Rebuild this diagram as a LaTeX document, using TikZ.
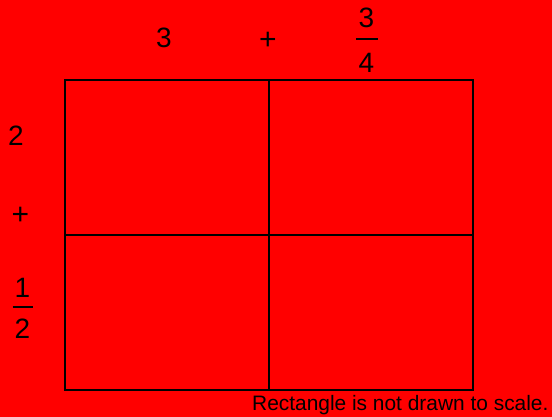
\documentclass[tikz,border=0pt]{standalone}
\usepackage{fontspec}
\setmainfont{Liberation Sans}
\definecolor{bgred}{RGB}{255,0,0}
\usetikzlibrary{positioning}

\begin{document}
\begin{tikzpicture}[x=1pt,y=-1pt,
  num/.style={inner sep=0pt,font=\fontsize{28}{28}\selectfont},
  plus/.style={inner sep=0pt,font=\fontsize{30}{30}\selectfont},
  bar/.style={line width=1.3pt},
  edge/.style={line width=1.5pt}]

  % background
  \fill[bgred] (0,0) rectangle (552,417);
  \useasboundingbox (0,0) rectangle (552,417);

  % rectangle split in four
  \draw[edge] (65,80) rectangle (473,390);
  \draw[edge] (269,80) -- (269,390);
  \draw[edge] (65,235) -- (473,235);

  % top side: 3 + 3/4
  \node[num] (topwhole) at (164,37.5) {3};
  \node[plus] (topplus) at (268,41) {+};
  \node[num] (topnum) at (366.5,17.5) {3};
  \node[num] (topden) at (366.5,62.5) {4};
  \draw[bar] (356,39) -- (378,39);

  % left side: 2 + 1/2
  \node[num] (leftwhole) at (16,136) {2};
  \node[plus] (leftplus) at (20.5,215.5) {+};
  \node[num] (leftnum) at (22.5,287.5) {1};
  \node[num] (leftden) at (22.5,328.5) {2};
  \draw[bar] (12.5,307) -- (33,307);

  % note
  \node[inner sep=0pt,anchor=base west,font=\fontsize{20.9}{20.9}\selectfont] (note) at (252,410.5) {Rectangle is not drawn to scale.};

\end{tikzpicture}
\end{document}
